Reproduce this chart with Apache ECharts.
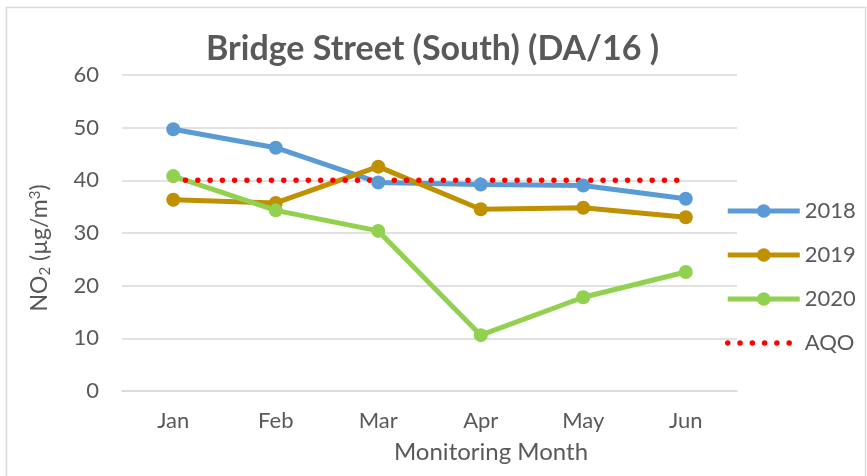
<!DOCTYPE html>
<html>
<head>
<meta charset="utf-8">
<script src="https://cdn.jsdelivr.net/npm/echarts@6/dist/echarts.min.js"></script>
<style>
  html, body { margin: 0; padding: 0; background: #fff; }
  #chart { width: 867px; height: 476px; }
</style>
</head>
<body>
<div id="chart"></div>
<script>
  // monthly NO2 readings
  const months = ['Jan', 'Feb', 'Mar', 'Apr', 'May', 'Jun']
  const no2_2018 = [49.7, 46.2, 39.6, 39.2, 39.0, 36.5]
  const no2_2019 = [36.3, 35.7, 42.6, 34.5, 34.8, 33.0]
  const no2_2020 = [40.8, 34.3, 30.4, 10.6, 17.8, 22.6]
  const aqo = [40, 40, 40, 40, 40, 40]

  const grey = '#595959'
  const font = 'Lato'
  const dots = { width: 5.5, type: [0.01, 12.27], cap: 'round' }

  const chart = echarts.init(document.getElementById('chart'))

  function lineSeries (name, data, color) {
    return {
      name: name,
      type: 'line',
      data: data,
      symbol: 'circle',
      symbolSize: 14,
      itemStyle: { color: color },
      lineStyle: { color: color, width: 5 },
      emphasis: { disabled: true }
    }
  }

  chart.setOption({
    animation: false,
    grid: { left: 122, right: 130, top: 75, bottom: 85 },
    legend: {
      orient: 'vertical',
      left: 725,
      top: 200,
      padding: 0,
      itemWidth: 72,
      itemHeight: 17,
      itemGap: 22,
      lineStyle: { width: 5 },
      data: [
        '2018', '2019', '2020',
        { name: 'AQO', lineStyle: dots, itemStyle: { opacity: 0 } }
      ],
      textStyle: { fontFamily: font, fontSize: 22, color: grey, lineHeight: 22 }
    },
    xAxis: {
      type: 'category',
      data: months,
      axisLine: { lineStyle: { color: '#d9d9d9', width: 1.5 } },
      axisTick: { show: false },
      axisLabel: { fontFamily: font, fontSize: 22, color: grey, margin: 19 }
    },
    yAxis: {
      type: 'value',
      min: 0,
      max: 60,
      interval: 10,
      axisLine: { show: false },
      axisTick: { show: false },
      axisLabel: { fontFamily: font, fontSize: 22, color: grey, margin: 23 },
      splitLine: { lineStyle: { color: '#d9d9d9', width: 1.5 } }
    },
    graphic: [
      {
        type: 'rect',
        shape: { x: 6.5, y: 7.5, width: 859, height: 500 },
        style: { fill: 'none', stroke: '#d9d9d9', lineWidth: 1.5 },
        silent: true
      },
      {
        type: 'text',
        x: 432.5,
        y: 49,
        style: {
          text: 'Bridge Street (South) (DA/16 )',
          fontFamily: font,
          fontWeight: 'bold',
          fontSize: 34,
          fill: grey,
          align: 'center',
          verticalAlign: 'middle'
        }
      },
      {
        type: 'text',
        x: 491,
        y: 452,
        style: {
          text: 'Monitoring Month',
          fontFamily: font,
          fontSize: 24,
          fill: grey,
          align: 'center',
          verticalAlign: 'middle'
        }
      },
      {
        type: 'text',
        x: 40,
        y: 248,
        rotation: Math.PI / 2,
        style: {
          text: '{m|NO}{sub|2}{m| (µg/m}{sup|3}{m|)}',
          align: 'center',
          verticalAlign: 'middle',
          rich: {
            m: { fontFamily: font, fontSize: 23, fill: grey, lineHeight: 30, verticalAlign: 'middle' },
            sub: { fontFamily: font, fontSize: 15, fill: grey, lineHeight: 30, verticalAlign: 'bottom', padding: [0, 0, 2, 0] },
            sup: { fontFamily: font, fontSize: 15, fill: grey, lineHeight: 30, verticalAlign: 'top', padding: [3, 0, 0, 0] }
          }
        }
      }
    ],
    series: [
      lineSeries('2018', no2_2018, '#5B9BD5'),
      lineSeries('2019', no2_2019, '#BF9000'),
      lineSeries('2020', no2_2020, '#92D050'),
      {
        name: 'AQO',
        type: 'line',
        data: aqo,
        symbol: 'none',
        itemStyle: { color: '#FF0000' },
        lineStyle: Object.assign({ color: '#FF0000' }, dots),
        emphasis: { disabled: true }
      }
    ]
  })
</script>
</body>
</html>
